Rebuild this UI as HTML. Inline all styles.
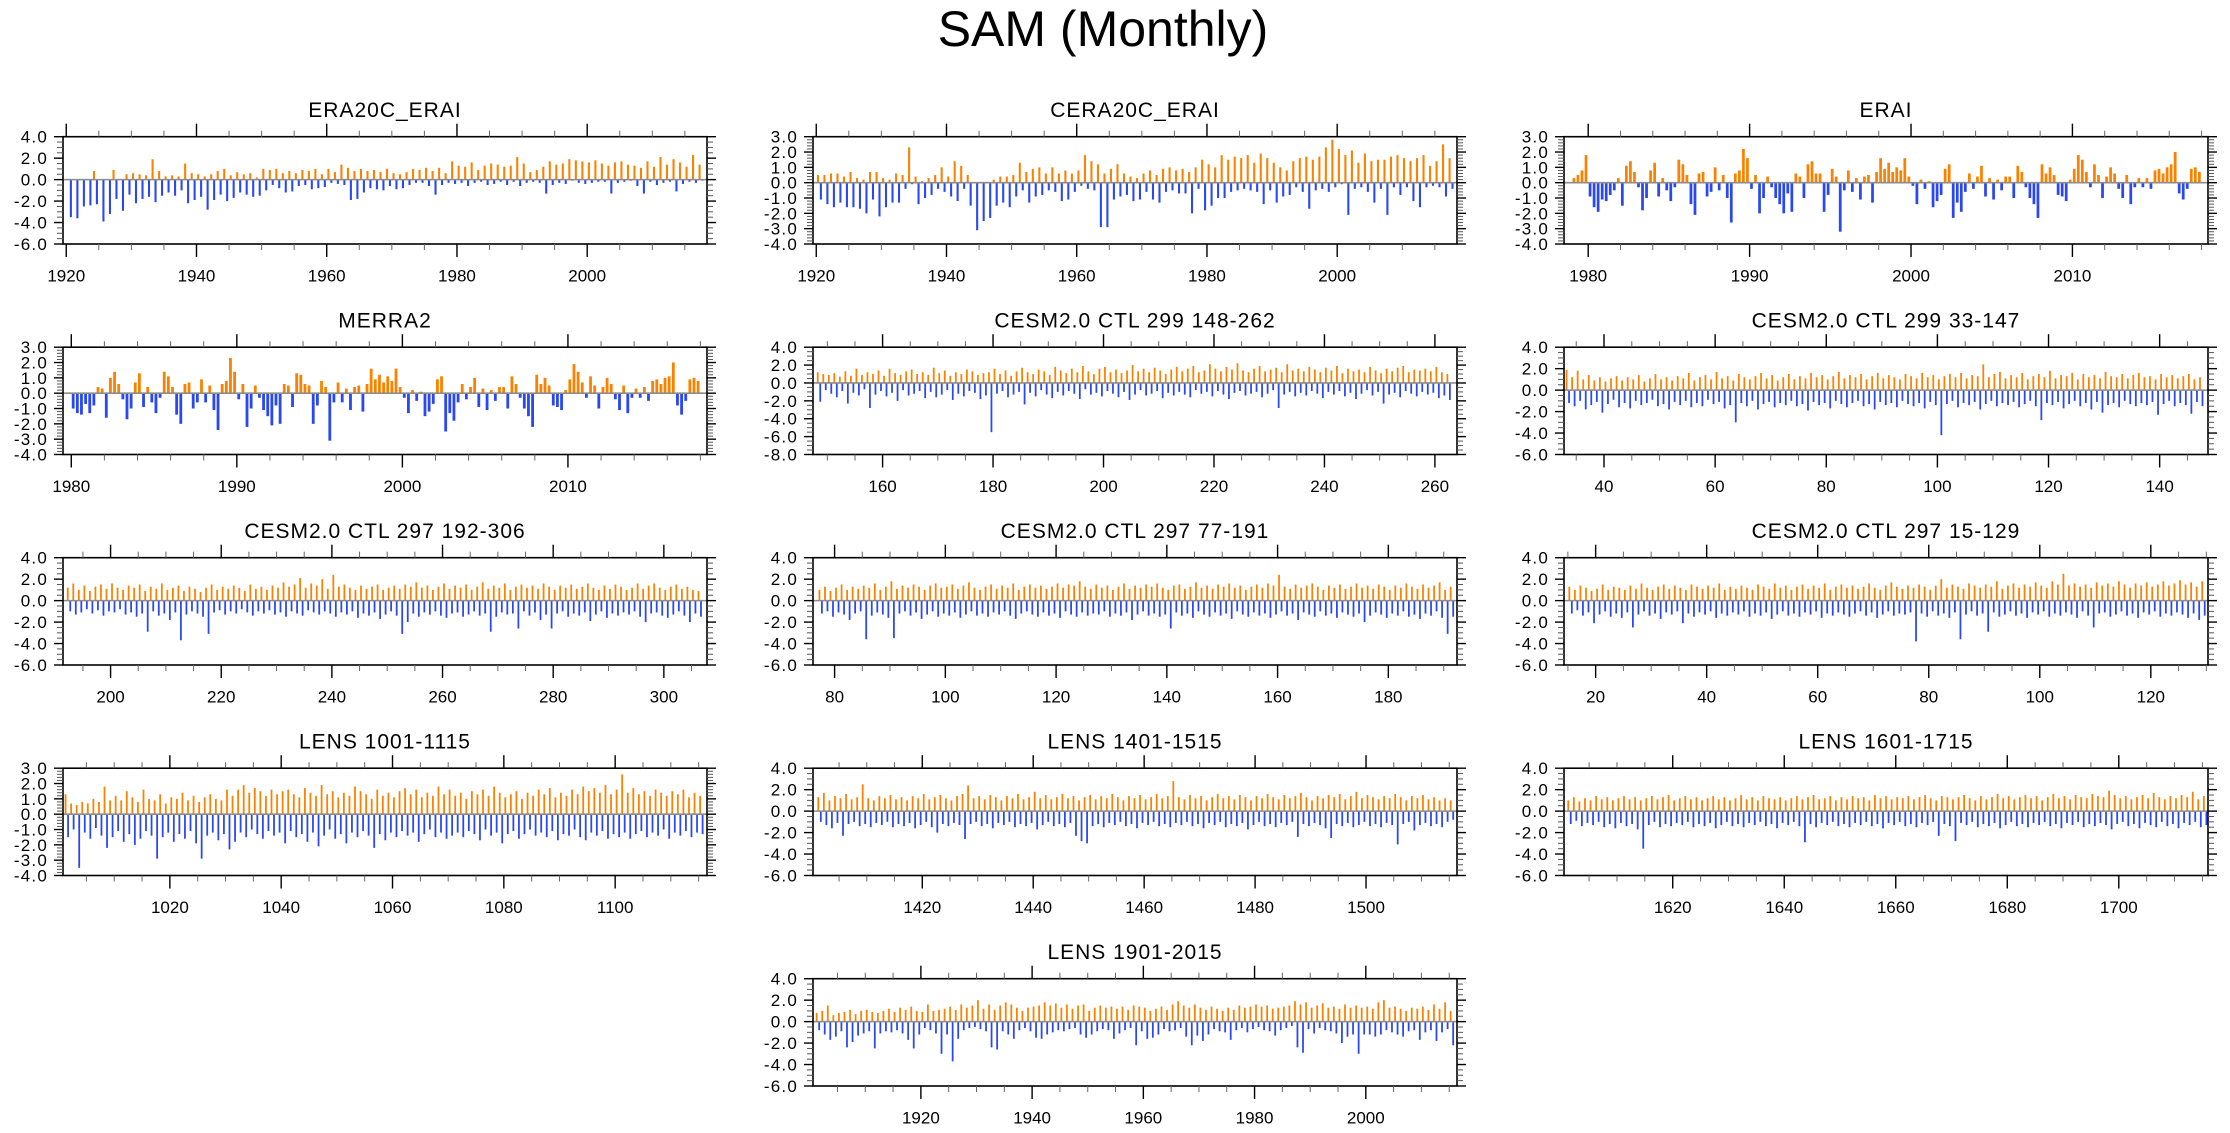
<!DOCTYPE html>
<html><head><meta charset="utf-8"><title>SAM (Monthly)</title>
<style>
html,body{margin:0;padding:0;background:#fff;}
svg{display:block;font-family:"Liberation Sans",Arial,sans-serif;}
</style></head>
<body>
<svg id="chart" xmlns="http://www.w3.org/2000/svg" width="2230" height="1133" viewBox="0 0 2230 1133">
<rect x="0" y="0" width="2230" height="1133" fill="#fff"/>
<text x="1103" y="46" font-size="50" text-anchor="middle" fill="#000">SAM (Monthly)</text>
</svg>
<script>
// ---------- data ----------
const era20cHi=[0,0,0,0,0.8,0,0,0.9,0,0.5,0.6,0.5,0.4,1.9,0.8,0.3,0.4,0.3,1.5,0.6,0.5,0.3,0.5,0.8,1.0,0.4,0.7,0.5,0.6,0.2,1.0,0.9,1.0,0.6,0.8,0.6,0.9,0.8,1.0,0.5,1.0,0.7,1.4,1.1,0.8,1.0,0.8,0.9,0.7,1.0,0.6,0.5,0.7,1.0,0.9,1.1,0.8,1.1,0.6,1.7,1.3,1.2,1.6,0.9,1.3,1.5,1.4,1.2,1.3,2.1,1.5,0.7,0.9,1.2,1.7,1.4,1.5,1.9,1.8,1.7,1.6,1.8,1.5,1.3,1.6,1.7,1.4,1.3,1.1,1.7,1.2,2.1,1.4,1.9,1.6,1.2,2.3,1.4];
const era20cLo=[-3.5,-3.6,-2.5,-2.4,-2.3,-3.9,-3.2,-1.8,-2.9,-1.4,-2.2,-1.8,-1.6,-2.1,-1.5,-1.2,-1.5,-1.0,-2.2,-1.9,-1.6,-2.8,-1.9,-1.4,-2.0,-1.7,-1.2,-1.4,-1.6,-1.5,-1.0,-0.5,-0.8,-1.2,-1.1,-0.6,-0.5,-0.9,-0.8,-0.7,-0.3,-0.4,-0.5,-1.9,-1.8,-1.2,-0.8,-0.9,-1.0,-0.6,-0.9,-0.8,-0.5,-0.3,-0.3,-0.6,-1.4,-0.5,-0.3,-0.4,-0.3,-0.6,-0.3,-0.2,-0.5,-0.4,-0.2,-0.5,-0.2,-0.6,-0.3,-0.2,-0.3,-1.3,-0.5,-0.3,-0.4,-0.1,-0.3,-0.4,-0.3,-0.2,-0.2,-1.3,-0.3,-0.2,-0.1,-0.6,-1.3,-0.2,-0.5,-0.3,-0.2,-1.1,-0.4,-0.2,-0.3,-0.1];
const cera20cHi=[0.5,0.5,0.6,0.6,0.4,0.7,0.3,0.2,0.7,0.7,0.3,0.2,0.6,0.5,2.3,0.4,0.1,0.3,0.5,1.0,0.4,1.4,1.1,0.5,0,0,0,0.2,0.4,0.4,0.5,1.3,0.7,0.9,1.0,0.6,1.0,0.6,0.8,0.6,0.8,1.8,1.4,1.2,0.6,0.9,1.2,0.6,0.4,0.3,0.6,0.8,0.5,0.9,1.0,0.8,0.9,0.7,1.0,1.5,1.2,1.0,1.8,1.5,1.7,1.6,1.8,1.3,1.9,1.6,1.3,1.0,0.8,1.4,1.6,1.7,1.5,1.7,2.3,2.8,2.2,1.8,2.1,1.3,1.9,1.4,1.5,1.5,1.7,1.8,1.6,1.4,1.6,1.8,1.1,1.4,2.5,1.6];
const cera20cLo=[-1.1,-1.4,-1.6,-1.3,-1.6,-1.6,-1.7,-2.0,-1.1,-2.2,-1.6,-1.3,-1.3,-0.4,-0.1,-1.4,-1.0,-0.8,-0.4,-0.6,-0.9,-1.2,-0.4,-1.5,-3.1,-2.5,-2.3,-1.5,-1.3,-1.6,-0.9,-0.5,-1.3,-0.9,-0.8,-0.5,-0.6,-1.2,-1.1,-0.6,-0.2,-0.4,-0.5,-2.9,-2.9,-1.1,-0.9,-0.8,-1.2,-1.1,-0.6,-1.1,-1.3,-0.6,-0.5,-0.7,-0.7,-2.0,-0.4,-1.8,-1.5,-1.0,-1.0,-0.6,-0.5,-0.4,-0.5,-0.6,-1.4,-0.5,-1.3,-0.9,-0.8,-0.3,-0.6,-1.7,-0.5,-0.4,-0.6,-0.3,-0.1,-2.1,-0.4,-0.3,-0.6,-1.3,-0.4,-2.1,-0.3,-0.8,-0.3,-1.2,-1.6,-0.3,-0.2,-0.3,-0.9,-0.4];
const eraiQ=[0.3,0.5,0.8,1.8,-0.9,-1.6,-1.9,-1.1,-1.2,-0.8,-0.5,0.3,-1.5,1.1,1.4,0.7,-0.3,-1.8,-1.0,0.8,1.3,-0.9,0.3,-0.5,-1.2,-0.3,1.5,1.2,0.5,-1.4,-2.1,0.6,0.7,-0.9,-0.6,1.0,-0.5,0.5,-1.0,-2.6,0.6,0.8,2.2,1.6,-0.4,0.5,-2.0,-1.0,0.4,-0.3,-1.0,-1.4,-2.0,-0.7,-1.9,0.6,0.4,-1.0,1.2,1.4,0.6,0.6,-1.9,-0.8,0.9,0.4,-3.2,-0.5,0.8,-0.6,0.3,-1.1,0.4,0.5,-1.3,0.7,1.6,0.9,1.3,0.7,1.0,0.8,1.6,0.4,-0.2,-1.4,0.2,-0.4,0.1,-1.6,-1.2,-0.8,0.9,1.2,-2.3,-1.3,-1.9,-0.6,0.6,-0.4,0.4,1.1,-0.9,0.3,-1.1,0.2,-0.5,0.4,0.4,-1.0,1.1,0.7,-0.3,-1.0,-1.4,-2.3,1.2,0.6,1.0,0.5,-0.8,-0.9,-1.2,0.2,0.9,1.8,1.5,0.7,-0.3,1.2,0.5,-1.0,0.4,1.0,0.6,-0.4,-1.0,0.5,-1.4,-0.3,0.3,-0.3,0.3,-0.4,0.8,0.9,0.6,1.0,1.2,2.0,-0.7,-1.1,-0.4,0.9,1.0,0.7];
const merra2Q=[-1.0,-1.3,-1.4,-0.7,-1.3,-0.8,0.4,0.3,-1.6,1.0,1.4,0.6,-0.4,-1.7,-1.0,0.7,1.3,-0.9,0.4,-0.6,-1.3,-0.3,1.4,1.1,0.4,-1.4,-2.0,0.6,0.7,-1.0,-0.6,0.9,-0.6,0.5,-1.1,-2.4,0.6,0.8,2.3,1.4,-0.4,0.6,-2.2,-1.0,0.5,-0.3,-1.1,-1.5,-2.1,-0.8,-2.0,0.6,0.5,-0.9,1.3,1.2,0.6,0.5,-2.0,-0.8,0.8,0.4,-3.1,-0.6,0.7,-0.6,0.3,-1.1,0.4,0.5,-1.2,0.6,1.6,0.9,1.2,0.7,1.1,0.8,1.6,0.4,-0.3,-1.3,0.2,-0.5,0.1,-1.5,-1.2,-0.7,0.9,1.1,-2.5,-1.3,-1.8,-0.6,0.6,-0.4,0.4,1.0,-0.9,0.3,-1.1,0.2,-0.5,0.4,0.4,-1.0,1.1,0.6,-0.3,-1.0,-1.5,-2.2,1.2,0.6,1.0,0.5,-0.8,-0.9,-1.1,0.2,0.9,1.9,1.4,0.7,-0.3,1.1,0.5,-1.0,0.4,1.0,0.6,-0.4,-1.1,0.5,-1.3,-0.3,0.3,-0.3,0.4,-0.5,0.8,0.9,0.6,1.0,1.1,2.0,-0.8,-1.4,-0.5,0.9,1.0,0.8];
const c299aHi=[1.2,1.0,0.9,1.1,0.7,1.3,0.8,1.6,0.9,1.2,1.0,1.4,0.8,1.6,1.1,0.9,1.3,1.5,1.0,1.2,0.9,1.7,1.1,1.4,0.8,1.2,1.0,1.5,1.3,0.9,1.1,1.2,1.6,1.0,1.4,0.8,1.3,1.7,1.2,1.0,1.5,1.3,0.9,1.8,1.4,1.1,1.6,1.2,1.9,1.3,1.0,1.6,1.8,1.2,1.5,1.1,1.4,2.0,1.3,1.6,1.2,1.7,1.4,1.0,1.5,1.8,1.3,1.6,1.9,1.2,1.4,2.1,1.6,1.3,1.8,1.5,2.2,1.4,1.2,1.6,1.9,1.3,1.5,1.7,1.2,2.1,1.4,1.6,1.3,1.8,1.5,1.2,1.7,1.4,1.9,1.1,1.6,1.3,1.5,1.2,1.8,1.4,1.1,1.6,1.3,1.7,1.9,1.2,1.5,1.4,1.6,1.3,1.8,1.2,1.0];
const c299aLo=[-2.1,-0.8,-1.2,-1.6,-0.9,-2.3,-1.1,-1.4,-0.7,-2.8,-1.3,-0.9,-1.5,-1.1,-2.0,-0.8,-1.4,-1.2,-0.9,-1.7,-1.0,-1.6,-1.3,-0.8,-1.9,-1.2,-1.5,-0.9,-1.1,-1.8,-1.4,-5.5,-1.2,-0.9,-1.6,-1.3,-1.0,-2.4,-1.1,-1.5,-0.8,-1.3,-1.7,-1.0,-1.4,-0.9,-1.2,-1.8,-0.7,-1.3,-1.1,-1.5,-0.9,-1.2,-1.6,-1.0,-1.9,-1.3,-0.8,-1.4,-1.2,-0.9,-1.7,-1.1,-1.4,-1.0,-1.3,-1.6,-0.8,-1.2,-1.0,-1.5,-0.9,-1.3,-1.8,-1.1,-0.9,-1.4,-1.2,-1.0,-1.6,-1.2,-0.8,-2.8,-1.3,-1.0,-1.5,-1.1,-1.4,-0.9,-1.2,-1.7,-1.0,-1.3,-0.9,-1.5,-1.1,-1.8,-1.2,-0.8,-1.4,-1.0,-2.3,-1.3,-1.1,-1.6,-0.9,-1.2,-1.5,-1.0,-1.3,-1.1,-1.7,-1.4,-1.9];
const c299bHi=[1.9,1.2,1.8,1.0,1.4,0.9,1.2,0.8,1.1,1.3,0.9,1.2,1.0,1.4,0.8,1.1,1.5,1.0,1.2,0.9,1.3,1.1,1.6,0.9,1.2,1.4,1.0,1.7,1.1,1.3,0.9,1.5,1.2,1.0,1.3,1.6,1.1,1.4,0.9,1.2,1.5,1.0,1.3,1.1,1.6,1.2,1.4,1.0,1.3,1.7,1.1,1.4,1.2,1.5,1.0,1.3,1.6,1.1,1.4,1.2,1.0,1.5,1.3,1.1,1.6,1.2,1.4,1.0,1.3,1.5,1.2,1.6,1.1,1.4,1.3,2.4,1.2,1.5,1.7,1.1,1.4,1.2,1.6,1.0,1.3,1.5,1.2,1.8,1.1,1.4,1.3,1.6,1.0,1.5,1.2,1.4,1.1,1.7,1.3,1.2,1.5,1.1,1.4,1.6,1.2,1.3,1.0,1.5,1.2,1.4,1.1,1.3,1.5,1.0,1.2];
const c299bLo=[-1.2,-1.5,-1.0,-1.8,-1.4,-1.1,-2.1,-1.3,-0.9,-1.6,-1.2,-1.7,-1.0,-1.4,-1.2,-0.9,-1.5,-1.3,-1.8,-1.1,-1.4,-1.0,-1.6,-1.2,-1.5,-0.9,-1.3,-1.1,-1.7,-1.4,-3.0,-1.2,-1.5,-1.0,-1.8,-1.3,-1.1,-1.6,-1.2,-1.4,-1.0,-1.5,-1.3,-1.9,-1.1,-1.4,-1.2,-1.7,-1.0,-1.3,-1.6,-1.2,-1.0,-1.5,-1.3,-1.8,-1.1,-1.4,-1.2,-1.6,-1.0,-1.3,-1.5,-1.2,-1.7,-1.1,-1.4,-4.2,-1.3,-1.0,-1.6,-1.2,-1.4,-1.1,-1.8,-1.3,-1.0,-1.5,-1.2,-1.4,-1.1,-1.6,-1.3,-1.0,-1.5,-2.8,-1.2,-1.4,-1.1,-1.7,-1.3,-1.0,-1.5,-1.2,-1.8,-1.1,-2.1,-1.4,-1.2,-1.6,-1.0,-1.3,-1.5,-1.2,-1.4,-1.1,-2.3,-1.3,-1.0,-1.5,-1.2,-1.4,-2.2,-1.1,-1.5];
const c297aHi=[1.2,1.6,1.0,1.4,0.9,1.3,1.5,1.1,1.6,1.2,1.0,1.4,1.2,1.5,0.9,1.3,1.1,1.6,1.0,1.2,1.4,0.9,1.3,1.1,0.8,1.2,1.5,1.0,1.3,1.1,1.4,1.2,0.9,1.5,1.1,1.3,1.0,1.4,1.2,1.7,1.3,1.5,2.1,1.2,1.6,1.4,2.0,1.1,2.4,1.3,1.5,1.2,1.0,1.4,1.1,1.3,1.5,1.0,1.2,1.4,1.1,1.5,1.3,1.7,1.2,1.4,1.0,1.3,1.6,1.1,1.4,1.2,1.5,1.0,1.3,1.7,1.1,1.4,1.2,1.6,1.0,1.3,1.5,1.2,1.4,1.1,1.6,1.3,1.0,1.4,1.2,1.5,1.1,1.3,1.6,1.2,1.0,1.4,1.1,1.5,1.3,1.0,1.2,1.6,1.1,1.4,1.6,1.2,1.0,1.3,1.5,1.1,1.3,1.0,0.9];
const c297aLo=[-1.0,-1.3,-1.1,-0.8,-1.2,-0.9,-1.4,-1.0,-1.1,-0.8,-1.3,-1.1,-1.5,-1.2,-2.9,-1.0,-1.4,-1.2,-1.8,-1.1,-3.7,-1.3,-1.0,-1.2,-1.5,-3.1,-1.1,-0.9,-1.3,-1.0,-1.2,-0.8,-1.1,-1.4,-1.0,-1.2,-0.9,-1.3,-1.1,-1.5,-1.0,-1.2,-1.4,-0.9,-1.1,-1.3,-1.0,-1.2,-1.5,-1.1,-1.3,-1.0,-1.6,-1.2,-1.4,-1.1,-1.7,-1.3,-1.0,-1.4,-3.1,-2.0,-1.2,-1.5,-1.1,-1.3,-1.0,-1.4,-1.6,-1.2,-1.1,-1.5,-1.3,-1.0,-1.4,-1.2,-2.9,-1.5,-1.1,-1.3,-1.2,-2.6,-1.0,-1.4,-1.1,-1.8,-1.3,-2.6,-1.2,-1.0,-1.5,-1.2,-1.4,-1.1,-1.9,-1.3,-1.0,-1.6,-1.2,-1.4,-1.1,-1.3,-1.0,-1.5,-2.0,-1.2,-1.1,-1.4,-1.6,-1.3,-1.0,-1.4,-2.0,-1.2,-1.5];
const c297bHi=[1.0,1.3,0.9,1.2,1.5,1.0,1.3,1.1,1.4,1.2,1.6,1.0,1.3,1.8,1.1,1.4,1.2,1.5,1.3,1.0,1.4,1.6,1.2,1.3,1.5,1.1,1.4,1.7,1.2,1.0,1.3,1.5,1.1,1.4,1.2,1.6,1.0,1.3,1.5,1.2,1.4,1.1,1.3,1.6,1.2,1.5,1.4,1.8,1.3,1.1,1.5,1.2,1.4,1.0,1.3,1.6,1.1,1.4,1.2,1.5,1.3,1.6,1.2,1.0,1.4,1.5,1.1,1.3,1.7,1.2,1.4,1.1,1.5,1.3,1.6,1.2,1.4,1.0,1.3,1.5,1.2,1.6,1.4,2.4,1.3,1.1,1.5,1.2,1.4,1.6,1.3,1.0,1.4,1.2,1.5,1.1,1.3,1.6,1.2,1.4,1.1,1.5,1.3,1.0,1.4,1.2,1.6,1.3,1.1,1.5,1.2,1.4,1.7,1.0,1.3];
const c297bLo=[-1.2,-1.0,-1.5,-1.1,-1.3,-1.8,-1.2,-1.0,-3.6,-1.4,-1.1,-1.3,-1.6,-3.5,-1.2,-1.0,-1.4,-1.1,-1.7,-1.3,-1.0,-1.5,-1.2,-1.4,-1.1,-1.6,-1.3,-1.0,-1.4,-1.2,-1.5,-1.1,-1.3,-1.0,-1.4,-1.7,-1.2,-1.0,-1.3,-1.5,-1.1,-1.4,-1.2,-1.6,-1.0,-1.3,-1.5,-1.1,-1.4,-1.2,-1.3,-1.0,-1.5,-1.2,-1.4,-1.1,-1.8,-1.3,-1.0,-1.4,-1.2,-1.5,-1.3,-2.6,-1.1,-1.4,-1.2,-1.6,-1.0,-1.3,-1.5,-1.1,-1.4,-1.2,-1.7,-1.0,-1.3,-1.5,-1.1,-1.4,-1.2,-1.6,-1.3,-1.0,-1.4,-1.2,-1.8,-1.1,-1.3,-1.5,-1.0,-1.4,-1.2,-1.6,-1.1,-1.3,-1.5,-1.2,-2.0,-1.4,-1.1,-1.3,-1.6,-1.2,-1.4,-1.0,-1.5,-1.3,-1.7,-1.2,-1.4,-1.0,-1.6,-3.1,-1.5];
const c297cHi=[1.3,1.0,1.4,1.2,0.9,1.1,1.5,1.0,1.3,1.2,1.0,1.4,1.1,1.6,1.2,1.0,1.3,1.5,1.1,1.4,1.2,1.0,1.5,1.3,1.1,1.4,1.2,1.6,1.0,1.3,1.1,1.4,1.2,1.0,1.5,1.3,1.1,1.6,1.2,1.4,1.0,1.3,1.5,1.1,1.4,1.2,1.6,1.0,1.3,1.5,1.2,1.4,1.1,1.3,1.6,1.2,1.0,1.4,1.7,1.3,1.1,1.4,1.2,1.5,1.3,1.0,1.4,2.0,1.2,1.5,1.3,1.1,1.6,1.4,1.2,1.5,1.3,1.8,1.1,1.4,1.6,1.2,1.5,1.3,1.7,1.4,1.2,1.8,1.5,2.5,1.4,1.6,1.3,1.5,1.2,1.7,1.4,1.6,1.3,1.8,1.5,1.2,1.6,1.4,1.7,1.3,1.5,1.8,1.4,1.6,1.9,1.5,1.7,1.3,1.8];
const c297cLo=[-1.2,-0.9,-1.4,-1.1,-2.1,-1.3,-1.0,-1.5,-1.2,-1.6,-1.1,-2.5,-1.3,-1.0,-1.4,-1.2,-1.7,-1.1,-1.3,-1.0,-2.1,-1.2,-1.5,-1.1,-1.3,-1.0,-1.6,-1.2,-1.4,-1.1,-1.3,-1.0,-1.5,-1.2,-1.4,-1.1,-1.7,-1.3,-1.0,-1.4,-1.2,-1.5,-1.1,-1.3,-1.0,-1.6,-1.2,-1.4,-1.1,-1.3,-1.5,-1.2,-1.0,-1.4,-1.1,-1.6,-1.3,-1.0,-1.4,-1.2,-1.3,-1.1,-3.8,-1.2,-1.5,-1.0,-1.4,-1.2,-1.6,-1.1,-3.6,-1.3,-1.0,-1.4,-1.2,-2.9,-1.1,-1.5,-1.3,-1.0,-1.4,-1.2,-1.6,-1.1,-1.3,-1.0,-1.5,-1.2,-1.4,-1.1,-1.3,-1.6,-1.0,-1.4,-2.5,-1.2,-1.1,-1.5,-1.3,-1.0,-1.4,-1.2,-1.6,-1.1,-1.3,-1.0,-1.5,-1.2,-1.4,-1.1,-1.3,-1.6,-1.2,-1.8,-1.4];
const lens1001Hi=[1.3,0.7,0.6,0.8,0.7,1.0,0.8,1.8,0.9,1.2,0.9,1.5,1.1,0.8,1.6,1.0,0.9,1.3,0.7,1.1,1.0,1.4,0.9,1.2,0.8,1.1,1.3,1.0,0.9,1.6,1.2,1.6,1.9,1.4,1.7,1.5,1.2,1.6,1.3,1.5,1.6,1.3,1.1,1.7,1.4,1.2,1.9,1.3,1.5,1.1,1.4,1.2,1.8,1.5,1.3,1.0,1.6,1.2,1.4,1.1,1.5,1.7,1.3,1.6,1.1,1.4,1.2,1.8,1.3,1.6,1.2,1.4,1.0,1.5,1.3,1.6,1.2,1.8,1.4,1.1,1.3,1.5,1.0,1.4,1.2,1.6,1.3,1.7,1.1,1.4,1.2,1.6,1.3,1.8,1.5,1.7,1.4,1.9,1.3,1.6,2.6,1.4,1.7,1.3,1.5,1.2,1.6,1.4,1.2,1.5,1.3,1.6,1.1,1.4,1.2];
const lens1001Lo=[-1.5,-1.0,-3.5,-1.2,-1.6,-0.9,-1.4,-2.2,-1.5,-1.1,-1.8,-1.3,-2.0,-1.6,-1.1,-1.4,-2.9,-1.5,-1.2,-1.8,-1.3,-1.6,-1.1,-1.9,-2.9,-1.4,-1.2,-1.7,-1.3,-2.3,-1.8,-1.2,-1.5,-1.0,-1.3,-1.6,-1.1,-1.4,-1.2,-1.9,-1.1,-1.5,-1.3,-1.8,-1.2,-2.1,-1.4,-1.0,-1.6,-1.3,-1.9,-1.2,-1.5,-1.1,-1.4,-2.2,-1.3,-1.7,-1.2,-1.5,-1.1,-1.4,-1.2,-1.8,-1.3,-1.0,-1.5,-1.2,-1.6,-1.4,-1.2,-1.5,-1.1,-1.3,-1.7,-1.0,-1.4,-1.2,-1.9,-1.3,-1.1,-1.6,-1.3,-1.0,-1.4,-1.2,-1.5,-1.1,-1.7,-1.3,-1.4,-1.0,-1.5,-1.7,-1.2,-1.4,-1.1,-1.6,-1.3,-1.5,-1.2,-1.6,-1.3,-1.1,-1.5,-1.2,-1.4,-1.0,-1.6,-1.2,-1.4,-1.1,-1.5,-1.2,-1.3];
const lens1401Hi=[1.3,1.7,1.0,1.4,1.2,1.6,1.1,1.3,2.5,1.2,1.0,1.4,1.2,1.5,1.1,1.3,1.0,1.4,1.2,1.6,1.1,1.3,1.5,1.2,1.0,1.4,1.6,2.4,1.2,1.4,1.1,1.5,1.3,1.0,1.4,1.2,1.6,1.1,1.3,1.8,1.2,1.5,1.1,1.3,1.6,1.2,1.4,1.0,1.3,1.5,1.1,1.4,1.2,1.6,1.3,1.0,1.4,1.2,1.5,1.1,1.3,1.6,1.2,1.4,2.8,1.3,1.1,1.5,1.2,1.4,1.0,1.3,1.6,1.2,1.4,1.1,1.5,1.3,1.0,1.4,1.2,1.6,1.3,1.1,1.5,1.2,1.4,1.7,1.3,1.0,1.4,1.2,1.5,1.3,1.6,1.1,1.4,1.8,1.2,1.5,1.3,1.1,1.4,1.2,1.6,1.3,1.0,1.4,1.2,1.5,1.1,1.3,1.0,1.2,1.0];
const lens1401Lo=[-1.0,-1.3,-1.6,-1.1,-2.3,-1.2,-1.0,-1.4,-1.2,-1.5,-1.1,-1.3,-1.0,-1.5,-1.2,-1.4,-1.1,-1.6,-1.3,-1.0,-1.5,-2.0,-1.2,-1.4,-1.1,-1.3,-2.6,-1.2,-1.0,-1.4,-1.2,-1.6,-1.1,-1.3,-1.0,-1.5,-1.2,-1.4,-1.1,-1.7,-1.3,-1.0,-1.4,-1.2,-1.5,-1.1,-2.3,-2.8,-3.0,-1.4,-1.2,-1.5,-1.1,-1.3,-1.0,-1.4,-1.2,-1.6,-1.1,-1.3,-1.0,-1.4,-1.2,-1.5,-1.1,-1.3,-1.0,-1.4,-1.2,-1.6,-1.1,-1.3,-1.0,-1.5,-1.2,-1.4,-1.1,-1.7,-1.3,-1.0,-1.4,-1.2,-1.5,-1.1,-1.3,-1.0,-2.4,-1.2,-1.4,-1.1,-1.3,-1.6,-2.5,-1.2,-1.4,-1.1,-1.5,-1.3,-1.0,-1.4,-1.2,-1.5,-1.1,-1.3,-3.1,-1.2,-1.0,-1.8,-1.3,-1.1,-1.4,-1.2,-1.5,-1.0,-0.8];
const lens1601Hi=[1.0,1.3,0.9,1.2,1.0,1.4,1.1,1.3,1.0,1.2,1.4,1.1,1.3,1.0,1.2,1.4,1.1,1.3,1.5,1.0,1.2,1.4,1.1,1.3,1.0,1.2,1.4,1.1,1.3,1.0,1.2,1.5,1.1,1.3,1.0,1.4,1.2,1.1,1.3,1.0,1.2,1.4,1.1,1.3,1.5,1.1,1.2,1.4,1.0,1.3,1.1,1.4,1.2,1.3,1.0,1.5,1.2,1.4,1.1,1.3,1.2,1.4,1.1,1.3,1.5,1.2,1.0,1.4,1.3,1.1,1.3,1.5,1.2,1.0,1.4,1.1,1.3,1.6,1.2,1.4,1.1,1.3,1.5,1.2,1.4,1.0,1.3,1.6,1.2,1.4,1.1,1.5,1.3,1.2,1.6,1.4,1.3,1.9,1.5,1.2,1.4,1.1,1.3,1.5,1.2,1.7,1.3,1.1,1.4,1.2,1.5,1.3,1.8,1.1,1.4];
const lens1601Lo=[-1.2,-0.9,-1.4,-1.1,-1.3,-1.0,-1.5,-1.2,-1.6,-1.1,-1.4,-1.2,-1.7,-3.5,-1.3,-1.0,-1.5,-1.2,-1.4,-1.1,-1.3,-1.0,-1.5,-1.2,-1.4,-1.1,-1.6,-1.3,-1.0,-1.4,-1.2,-1.5,-1.1,-1.3,-1.0,-1.4,-1.2,-1.6,-1.1,-1.3,-1.0,-1.4,-2.9,-1.2,-1.5,-1.1,-1.3,-1.0,-1.4,-1.2,-1.5,-1.1,-1.3,-1.0,-1.4,-1.2,-1.6,-1.1,-1.3,-1.0,-1.4,-1.2,-1.5,-1.1,-1.3,-1.0,-2.3,-1.2,-1.4,-2.8,-1.1,-1.3,-1.0,-1.5,-1.2,-1.4,-1.1,-1.6,-1.3,-1.0,-1.4,-1.2,-1.5,-1.1,-1.3,-1.0,-1.4,-1.2,-1.6,-1.1,-1.3,-1.0,-1.5,-1.2,-1.4,-1.1,-1.3,-1.7,-1.2,-1.0,-1.4,-1.2,-1.6,-1.1,-1.3,-1.5,-1.0,-1.4,-1.2,-1.6,-1.1,-1.3,-1.0,-1.5,-1.3];
const lens1901Hi=[0.8,1.0,1.5,0.6,0.8,0.9,1.1,0.7,1.0,1.1,0.9,0.8,1.0,1.2,0.9,1.3,1.1,1.4,1.0,0.9,1.6,1.0,1.1,1.2,1.4,1.1,1.6,1.3,1.5,2.0,1.2,1.6,1.1,1.5,1.8,1.6,1.3,1.0,1.3,1.4,1.5,1.8,1.5,1.7,1.3,1.6,1.2,1.5,1.6,1.0,1.3,1.5,1.3,1.4,1.2,1.4,1.1,1.5,1.4,1.3,1.0,1.2,1.4,1.1,1.6,1.9,1.5,1.3,1.6,1.3,1.1,1.4,1.2,1.0,1.3,1.1,1.5,1.3,1.4,1.6,1.4,1.5,1.2,1.3,1.4,1.5,1.9,1.6,1.8,1.3,1.5,1.7,1.3,1.4,1.2,1.6,1.3,1.5,1.3,1.4,1.2,1.8,2.0,1.3,1.4,1.2,1.0,1.3,1.2,1.4,1.1,1.6,1.2,1.8,1.0];
const lens1901Lo=[-0.8,-1.2,-1.7,-1.4,-0.9,-2.4,-1.9,-1.3,-1.1,-0.9,-2.5,-1.1,-0.9,-1.0,-0.8,-1.1,-1.7,-2.5,-1.2,-0.6,-0.8,-1.1,-3.0,-1.2,-3.7,-1.6,-0.8,-0.6,-0.5,-0.7,-0.9,-2.4,-2.6,-0.9,-1.2,-1.6,-0.8,-0.6,-0.9,-1.5,-1.6,-1.2,-1.0,-0.8,-0.9,-0.7,-0.6,-1.2,-1.5,-1.2,-0.9,-0.7,-0.8,-1.6,-1.1,-0.8,-0.6,-2.2,-0.9,-1.6,-1.5,-1.2,-0.7,-0.9,-0.8,-0.6,-1.4,-2.2,-1.3,-1.8,-1.2,-0.7,-0.9,-1.0,-1.7,-0.8,-0.6,-1.0,-0.7,-0.5,-0.8,-0.9,-1.3,-0.8,-0.6,-0.4,-2.4,-2.9,-0.7,-1.1,-0.6,-0.8,-0.9,-1.1,-2.0,-1.4,-1.2,-3.0,-1.2,-1.2,-1.4,-1.2,-0.8,-1.0,-1.2,-1.4,-0.9,-0.8,-1.7,-1.0,-0.8,-1.8,-1.0,-0.7,-2.2];

// ---------- layout ----------
const NS='http://www.w3.org/2000/svg';
const svg=document.getElementById('chart');
const COLX=[63,813,1564], FW=644, FH=107.3, ROW0=136.7, ROWSTEP=210.5;
const ORANGE='#fb8200', BLUE='#2a48f2';
const panels=[
 {name:'era20c-erai',title:'ERA20C_ERAI',c:0,r:0,hi:era20cHi,lo:era20cLo,start:1920,x0:1919.5,x1:2018.4,y0:-6,y1:4,yMaj:2,yMin:0.5,xMaj0:1920,xMaj:20,xMin:5},
 {name:'cera20c-erai',title:'CERA20C_ERAI',c:1,r:0,hi:cera20cHi,lo:cera20cLo,start:1920,x0:1919.5,x1:2018.4,y0:-4,y1:3,yMaj:1,yMin:0.2,xMaj0:1920,xMaj:20,xMin:5},
 {name:'erai',title:'ERAI',c:2,r:0,sig:eraiQ,step:0.25,start:1979,x0:1978.5,x1:2018.4,y0:-4,y1:3,yMaj:1,yMin:0.2,xMaj0:1980,xMaj:10,xMin:2},
 {name:'merra2',title:'MERRA2',c:0,r:1,sig:merra2Q,step:0.25,start:1980,x0:1979.5,x1:2018.4,y0:-4,y1:3,yMaj:1,yMin:0.2,xMaj0:1980,xMaj:10,xMin:2},
 {name:'cesm-299-148-262',title:'CESM2.0 CTL 299 148-262',c:1,r:1,hi:c299aHi,lo:c299aLo,start:148,x0:147.4,x1:264,y0:-8,y1:4,yMaj:2,yMin:0.5,xMaj0:160,xMaj:20,xMin:5},
 {name:'cesm-299-33-147',title:'CESM2.0 CTL 299 33-147',c:2,r:1,hi:c299bHi,lo:c299bLo,start:33,x0:32.8,x1:148.7,y0:-6,y1:4,yMaj:2,yMin:0.5,xMaj0:40,xMaj:20,xMin:5},
 {name:'cesm-297-192-306',title:'CESM2.0 CTL 297 192-306',c:0,r:2,hi:c297aHi,lo:c297aLo,start:192,x0:191.4,x1:307.8,y0:-6,y1:4,yMaj:2,yMin:0.5,xMaj0:200,xMaj:20,xMin:5},
 {name:'cesm-297-77-191',title:'CESM2.0 CTL 297 77-191',c:1,r:2,hi:c297bHi,lo:c297bLo,start:77,x0:76.1,x1:192.4,y0:-6,y1:4,yMaj:2,yMin:0.5,xMaj0:80,xMaj:20,xMin:5},
 {name:'cesm-297-15-129',title:'CESM2.0 CTL 297 15-129',c:2,r:2,hi:c297cHi,lo:c297cLo,start:15,x0:14.3,x1:130.3,y0:-6,y1:4,yMaj:2,yMin:0.5,xMaj0:20,xMaj:20,xMin:5},
 {name:'lens-1001-1115',title:'LENS 1001-1115',c:0,r:3,hi:lens1001Hi,lo:lens1001Lo,start:1001,x0:1000.8,x1:1116.5,y0:-4,y1:3,yMaj:1,yMin:0.2,xMaj0:1020,xMaj:20,xMin:5},
 {name:'lens-1401-1515',title:'LENS 1401-1515',c:1,r:3,hi:lens1401Hi,lo:lens1401Lo,start:1401,x0:1400.3,x1:1516.4,y0:-6,y1:4,yMaj:2,yMin:0.5,xMaj0:1420,xMaj:20,xMin:5},
 {name:'lens-1601-1715',title:'LENS 1601-1715',c:2,r:3,hi:lens1601Hi,lo:lens1601Lo,start:1601,x0:1600.5,x1:1716,y0:-6,y1:4,yMaj:2,yMin:0.5,xMaj0:1620,xMaj:20,xMin:5},
 {name:'lens-1901-2015',title:'LENS 1901-2015',c:1,r:4,hi:lens1901Hi,lo:lens1901Lo,start:1901,x0:1900.6,x1:2016.4,y0:-6,y1:4,yMaj:2,yMin:0.5,xMaj0:1920,xMaj:20,xMin:5}
];

function mk(tag,attrs,parent){
  const e=document.createElementNS(NS,tag);
  for(const k in attrs) e.setAttribute(k,attrs[k]);
  (parent||svg).appendChild(e);
  return e;
}
function line(g,x1,y1,x2,y2,w,col){
  const l=mk('line',{x1:x1,y1:y1,x2:x2,y2:y2,stroke:col||'#000','stroke-width':w||1},g);
  
  
  return l;
}

panels.forEach(p=>{
  const L=COLX[p.c], T=ROW0+ROWSTEP*p.r, R=L+FW, B=T+FH;
  const xs=v=>L+(v-p.x0)/(p.x1-p.x0)*FW;
  const ys=v=>T+(p.y1-v)/(p.y1-p.y0)*FH;
  const g=mk('g',{});
  
  

  const t=mk('text',{x:(L+R)/2,y:T-19.7,'font-size':21,'letter-spacing':1,'text-anchor':'middle',fill:'#000'},g);
  t.textContent=p.title;
  
  

  const bars=mk('g',{},g);
  
  
  const z=ys(0);
  if(p.sig){
    p.sig.forEach((v,i)=>{
      const a=p.start+i*p.step;
      const xa=xs(a+0.03), xb=xs(a+p.step-0.05);
      const yv=ys(v);
      const r=mk('rect',{x:xa,y:Math.min(yv,z),width:Math.max(0.5,xb-xa),height:Math.abs(yv-z),fill:v>=0?ORANGE:BLUE},bars);
      
      
    });
  } else {
    p.hi.forEach((v,i)=>{
      const a=p.start+i;
      const xa=xs(a+0.1), xb=xs(a+0.42);
      const yv=ys(v);
      const r=mk('rect',{x:xa,y:yv,width:xb-xa,height:Math.max(0,z-yv),fill:ORANGE},bars);
      
      
    });
    p.lo.forEach((v,i)=>{
      const a=p.start+i;
      const xa=xs(a+0.55), xb=xs(a+0.87);
      const yv=ys(v);
      const r=mk('rect',{x:xa,y:z,width:xb-xa,height:Math.max(0,yv-z),fill:BLUE},bars);
      
      
    });
  }
  const zl=mk('line',{x1:L,y1:z,x2:R,y2:z,stroke:'#8c8c8c','stroke-width':1.6},g);
  
  

  const fr=mk('rect',{x:L,y:T,width:FW,height:FH,fill:'none',stroke:'#000','stroke-width':1.6},g);
  
  

  const nMin=Math.round((p.y1-p.y0)/p.yMin);
  for(let k=0;k<=nMin;k++){
    const v=p.y0+k*p.yMin, y=ys(v);
    const isMaj=Math.abs(v/p.yMaj-Math.round(v/p.yMaj))<1e-6;
    const len=isMaj?9:6;
    line(g,L-len,y,L,y,isMaj?1.4:1,isMaj?'#000':'#555');
    line(g,R,y,R+len,y,isMaj?1.4:1,isMaj?'#000':'#555');
    if(isMaj){
      const lb=mk('text',{x:L-15,y:y+6,'font-size':17,'letter-spacing':1.2,'text-anchor':'end',fill:'#000'},g);
      lb.textContent=v.toFixed(1);
      
      
    }
  }
  const mStart=Math.ceil(p.x0/p.xMin)*p.xMin;
  for(let v=mStart;v<=p.x1;v+=p.xMin){
    const x=xs(v);
    const isMaj=((v-p.xMaj0)%p.xMaj+p.xMaj)%p.xMaj===0;
    const len=isMaj?13:6;
    line(g,x,B,x,B+len,isMaj?1.4:1,isMaj?'#000':'#666');
    line(g,x,T-len,x,T,isMaj?1.4:1,isMaj?'#000':'#666');
    if(isMaj){
      const lb=mk('text',{x:x,y:B+37.7,'font-size':17,'text-anchor':'middle',fill:'#000'},g);
      lb.textContent=String(v);
      
      
    }
  }
});
</script>
</body></html>
